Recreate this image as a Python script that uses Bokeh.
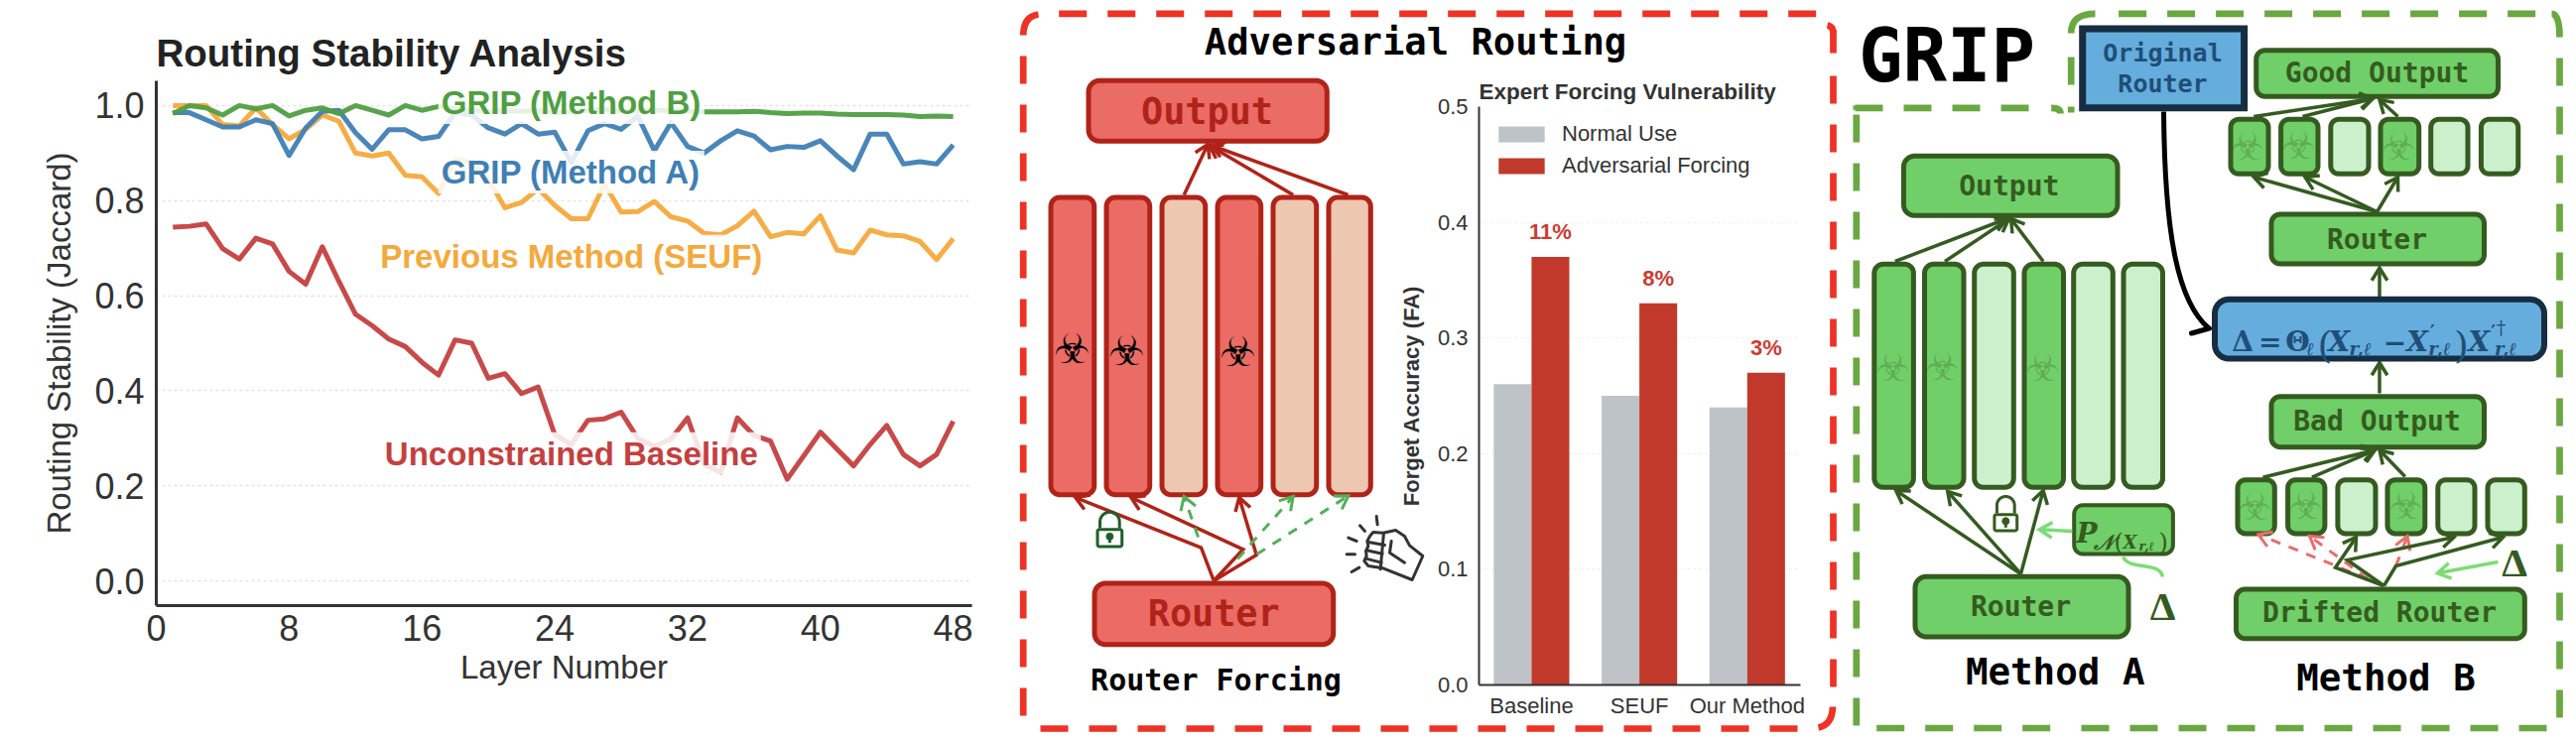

import numpy as np
from bokeh.core.properties import value
from bokeh.embed import file_html
from bokeh.models import FixedTicker, Label, Legend, LegendItem, Range1d, Title
from bokeh.plotting import figure
from bokeh.resources import INLINE

# ---------- line chart data ----------
layers = list(range(1, 49))
method_b = [.983,1.0,.995,.98,1.0,.993,1.0,.978,.99,.995,.983,1.0,.99,.98,1.0,.99,.998,.992,.99,.988,.99,.988,.99,.985,.987,.99,.992,.988,.99,.99,.99,.988,.987,.987,.987,.988,.985,.983,.984,.984,.982,.981,.981,.981,.98,.977,.978,.977]
method_a = [.985,.985,.97,.955,.955,.97,.962,.895,.953,.988,.99,.943,.908,.949,.949,.93,.935,.985,.98,.953,.94,.962,.94,.944,.88,.947,.962,.95,.978,.905,.964,.914,.90,.926,.947,.936,.907,.914,.912,.926,.894,.865,.94,.94,.877,.882,.877,.917]
seuf = [1.0,1.0,1.0,.96,.957,.995,.96,.93,.95,.98,.967,.90,.894,.90,.853,.85,.815,.887,.88,.846,.785,.796,.825,.79,.762,.762,.835,.776,.777,.798,.766,.757,.731,.728,.747,.778,.724,.733,.73,.768,.696,.69,.738,.728,.726,.714,.676,.72]
baseline = [.744,.746,.751,.699,.677,.721,.709,.651,.624,.703,.63,.561,.537,.509,.493,.46,.433,.507,.5,.426,.436,.394,.408,.308,.287,.338,.341,.355,.30,.283,.298,.343,.245,.228,.343,.306,.294,.214,.263,.313,.277,.242,.287,.327,.266,.242,.266,.336]
x_ticks = [0, 8, 16, 24, 32, 40, 48]
y_ticks = [0.0, 0.2, 0.4, 0.6, 0.8, 1.0]
line_labels = ["GRIP (Method B)", "GRIP (Method A)", "Previous Method (SEUF)", "Unconstrained Baseline"]
label_y = [1.006, 0.86, 0.683, 0.268]
label_x = 25

# ---------- bar chart data ----------
bar_groups = ["Baseline", "SEUF", "Our Method"]
normal_use = [0.26, 0.25, 0.24]
adversarial = [0.37, 0.33, 0.27]
gap_labels = ["11%", "8%", "3%"]

SANS = "Liberation Sans"
MONO = "DejaVu Sans Mono"
SERIF = "DejaVu Serif"
DARK = "#333333"
C_G, C_B, C_O, C_R = "#4F9F42", "#3F7FB5", "#F5A93B", "#C53F3F"

def at(left, top):
    return {"position": "absolute", "left": f"{left}px", "top": f"{top}px"}

# ---------- left: line chart ----------
lf = figure(width=1018, height=732, output_backend="svg", toolbar_location=None,
            x_range=Range1d(0, 49.13), y_range=Range1d(-0.052, 1.052),
            min_border_left=149, min_border_right=47, min_border_top=73, min_border_bottom=130,
            styles=at(8, 8))
lf.outline_line_color = None
lf.xgrid.visible = False
lf.ygrid.grid_line_color = "#e4e4e4"
lf.ygrid.grid_line_dash = "3 3"
lf.ygrid.grid_line_width = 1.5
for s, c in zip([method_b, method_a, seuf, baseline][::-1], [C_G, C_B, C_O, C_R][::-1]):
    lf.line(layers, s, line_color=c, line_width=5, line_alpha=0.95, line_join="round")
for ax in (lf.xaxis[0], lf.yaxis[0]):
    ax.major_tick_line_color = None
    ax.minor_tick_line_color = None
    ax.axis_line_color = DARK
    ax.axis_line_width = 3
    ax.major_label_text_font = SANS
    ax.major_label_text_font_size = "36px"
    ax.major_label_text_color = DARK
    ax.axis_label_text_font = SANS
    ax.axis_label_text_font_size = "33px"
    ax.axis_label_text_font_style = "normal"
    ax.axis_label_text_color = DARK
lf.xaxis[0].ticker = FixedTicker(ticks=x_ticks)
lf.yaxis[0].ticker = FixedTicker(ticks=y_ticks)
lf.xaxis[0].axis_label = "Layer Number"
lf.yaxis[0].axis_label = "Routing Stability (Jaccard)"
lf.xaxis[0].major_label_standoff = 3
lf.xaxis[0].axis_label_standoff = 5
lf.yaxis[0].major_label_standoff = 6
lf.yaxis[0].axis_label_standoff = 14
lf.yaxis[0].major_label_overrides = {v: f"{v:.1f}" for v in y_ticks}
lf.title = Title(text="Routing Stability Analysis", text_font=SANS, text_font_size="38.5px",
                 text_font_style="bold", text_color="#222222", offset=0, standoff=13)
for t, y, c in zip(line_labels, label_y, [C_G, C_B, C_O, C_R]):
    lf.add_layout(Label(x=label_x, y=y, text=t, text_align="center", text_baseline="middle",
                        text_font=SANS, text_font_size="33px", text_font_style="bold", text_color=c,
                        background_fill_color="white", background_fill_alpha=0.85, padding=3))

# ---------- middle and right: schematic, one data unit = one page pixel ----------
d = figure(width=1562, height=732, output_backend="svg", toolbar_location=None,
           x_range=Range1d(1026, 2588), y_range=Range1d(740, 8), min_border=0,
           styles=at(1026, 8))
d.axis.visible = False
d.grid.visible = False
d.outline_line_color = None

def rr_pts(x0, y0, x1, y1, r):
    xs, ys = [], []
    for cx, cy, a0 in [(x1-r, y0+r, -90), (x1-r, y1-r, 0), (x0+r, y1-r, 90), (x0+r, y0+r, 180)]:
        a = np.radians(np.linspace(a0, a0+90, 8))
        xs += list(cx + r*np.cos(a)); ys += list(cy + r*np.sin(a))
    return xs, ys

def box(x0, y0, x1, y1, fill, line, lw=5, r=11):
    xs, ys = rr_pts(x0+lw/2, y0+lw/2, x1-lw/2, y1-lw/2, r)
    d.patch(xs, ys, fill_color=fill, line_color=line, line_width=lw, line_join="round")

def txt(x, y, s, size, color="black", font=MONO, style="bold", align="center", base="middle", alpha=1.0):
    d.text([x], [y], text=[s], text_font=value(font), text_font_size=value(f"{size}px"), text_font_style=style,
           text_color=color, text_align=align, text_baseline=base, text_alpha=alpha)

def arrow(pts, color, lw=3.5, head=15, dash=None):
    pts = np.array(pts, dtype=float)
    kw = {"line_dash": dash} if dash else {}
    d.line(pts[:, 0], pts[:, 1], line_color=color, line_width=lw, line_join="miter", **kw)
    tip, prev = pts[-1], pts[-2]
    ang = np.arctan2(*(prev-tip)[::-1])
    hx, hy = [], []
    for s in (0.55, -0.55):
        hx += [tip[0]+head*np.cos(ang+s), tip[0]]
        hy += [tip[1]+head*np.sin(ang+s), tip[1]]
    d.line(hx, hy, line_color=color, line_width=lw, line_join="miter")

def dashes(segs, color, lw=6.7):
    for (x0, y0, x1, y1) in segs:
        d.line([x0, x1], [y0, y1], line_color=color, line_width=lw, line_dash="28 21", line_cap="butt")

def corner(x0, y0, cx, cy, x1, y1, color, lw=6.7):
    d.quadratic([x0], [y0], [x1], [y1], [cx], [cy], line_color=color, line_width=lw)

def lock(x0, y0, x1, y1, top, color, lw=3):
    box(x0, y0, x1, y1, "white", color, lw=lw, r=2)
    cx, rx = (x0+x1)/2, (x1-x0)/2-4
    a = np.radians(np.linspace(180, 360, 16))
    sx = [cx-rx] + list(cx+rx*np.cos(a)) + [cx+rx]
    sy = [y0] + list(top+rx+rx*np.sin(a)) + [y0]
    d.line(sx, sy, line_color=color, line_width=lw)
    ky = (y0+y1)/2
    d.scatter([cx], [ky-1.5], size=7, color=color)
    d.line([cx, cx], [ky-1, ky+5], line_color=color, line_width=3)

RED, REDF, REDL, REDLINE = "#EE3224", "#EB6B65", "#EEC7B0", "#B02318"
GRN, GRNF, GRNL, GRNLINE = "#6AA842", "#70CF68", "#CCF0CC", "#355B20"
BLUF, BLULINE, BLUTXT = "#65ADDC", "#162D42", "#1F4E79"

# dashed frames
dashes([(1066.7,13.3,1830,13.3),(1847,76,1847,692),(1048,734,1811,734),(1030.7,56,1030.7,721),(1847,30,1847,53)], RED)
corner(1030.7,35, 1031,16, 1046,14, RED)
corner(1846.5,712, 1846,730, 1832,733, RED)
corner(1841,25, 1847,26, 1847,33, RED)
dashes([(1870.3,115,1870.3,732),(1869,108.3,2045,108.3),(1890.7,733.5,2066,733.5),(2097,733.5,2566,733.5),
        (2579,58,2579,723),(2134.6,13.3,2555,13.3),(2086.7,57,2086.7,85),(2086.7,107,2086.7,113)], GRN)
corner(2066.7,108.3, 2076,108.3, 2076,114, GRN)
corner(2571,13.3, 2579,13.3, 2579,37, GRN)
corner(2086.7,33, 2086.7,13.3, 2111,13.3, GRN)
corner(1867,108.3, 1870.3,108.3, 1870.3,110, GRN, lw=5)

# red panel
txt(1426, 41, "Adversarial Routing", 37.2)
txt(1225, 685, "Router Forcing", 30)
box(1094, 78.3, 1339.3, 144.3, REDF, REDLINE, r=11)
txt(1216, 112, "Output", 36.8, REDLINE)
red_cols = [(1056,1104.7,1),(1112,1160.7,1),(1168,1216.7,0),(1224,1272.7,1),(1280,1328.7,0),(1336,1383.3,0)]
for x0, x1, bad in red_cols:
    box(x0, 196, x1, 500.7, REDF if bad else REDL, REDLINE, r=9)
for x, y in [(1080,351),(1135,353),(1247,354.5)]:
    txt(x, y, "\u2623", 41, "black", font="DejaVu Sans", style="normal")
box(1100, 585, 1345.7, 651.7, REDF, REDLINE, r=11)
txt(1222.7, 618.3, "Router", 36.8, REDLINE)
arrow([(1192.7,196),(1216.7,145)], REDLINE)
arrow([(1302.7,196),(1218,146)], REDLINE)
arrow([(1358,196),(1220,146)], REDLINE)
arrow([(1222.7,585),(1210,551.7),(1083.3,501)], REDLINE)
arrow([(1222.7,585),(1252.3,553.3),(1139.3,501)], REDLINE)
arrow([(1222.7,585),(1265.7,559),(1248.3,501)], REDLINE)
G_D = "#52B05A"
arrow([(1207,541),(1192.7,500)], G_D, lw=3, dash="10 9")
arrow([(1246.7,563),(1302.7,500)], G_D, lw=3, dash="10 9")
arrow([(1266,558.3),(1358.3,499.3)], G_D, lw=3, dash="10 9")
lock(1104, 531.7, 1131.7, 552, 515.7, "#1F5F26")

def z7(p):
    return 1020+p[0]/3, 370+p[1]/3
def poly7(pts, lw=3):
    a = np.array([z7(p) for p in pts])
    d.line(a[:,0], a[:,1], line_color=DARK, line_width=lw, line_join="round", line_cap="round")
poly7([(1120,500),(1158,492),(1185,510),(1200,538),(1240,570),(1208,642),(1120,607),(1075,600),(1063,585),(1070,570),(1068,555),(1075,540),(1072,525),(1080,510),(1090,498),(1120,500)])
poly7([(1076,528),(1125,537)]); poly7([(1070,553),(1118,563)]); poly7([(1068,578),(1115,590)])
poly7([(1145,525),(1140,560),(1185,590)]); poly7([(1122,500),(1112,610)])
for s in [[(1100,450),(1103,475)],[(1050,478),(1065,495)],[(1015,515),(1040,525)],[(1010,565),(1035,565)],[(1025,618),(1048,605)]]:
    poly7(s)

# GRIP panel
txt(1961.5, 55, "GRIP", 74)
txt(2070.7, 676.7, "Method A", 37.5)
txt(2404, 682.7, "Method B", 37.5)

BIO = 39
# Method A
box(1915.4, 154.3, 2136, 219.3, GRNF, GRNLINE, r=11)
txt(2024.3, 186.7, "Output", 28, GRNLINE)
a_cols = [(1885.8,1930.4,1),(1936.5,1981,1),(1986.7,2031.3,0),(2037,2081.5,1),(2086.7,2131.3,0),(2137,2181.5,0)]
for x0, x1, bad in a_cols:
    box(x0, 263.3, x1, 493.3, GRNF if bad else GRNL, GRNLINE, r=9)
for x, y in [(1907,370),(1957,369),(2058,370)]:
    txt(x, y, "\u2623", BIO, GRNLINE, font="DejaVu Sans", style="normal", alpha=0.28)
arrow([(1909.3,263),(2022,220)], GRNLINE)
arrow([(1959.5,263),(2024,220)], GRNLINE)
arrow([(2058.6,263),(2026,220)], GRNLINE)
box(1927, 578.3, 2147, 644, GRNF, GRNLINE, r=11)
txt(2036, 610.7, "Router", 28, GRNLINE)
arrow([(2036,578),(1910.2,494)], GRNLINE)
arrow([(2036,578),(1962.3,495)], GRNLINE)
arrow([(2036,578),(2058.6,494)], GRNLINE)
lock(2007.9, 516.7, 2033.7, 536, 500, GRNLINE)
box(2087.7, 506.7, 2191.4, 560, GRNF, GRNLINE, lw=4, r=9)
G_L = "#7DDC75"
arrow([(2087.7,535),(2054.8,533.3)], G_L)
d.bezier([2139],[561],[2179],[581],[2146],[575],[2176],[565], line_color=G_L, line_width=3.5)
txt(2179, 610, "\u0394", 41, GRNLINE, font="Liberation Serif", style="bold")
txt(2092, 537, "P", 28, GRNLINE, font=SERIF, style="bold italic", align="left", base="alphabetic")
txt(2109, 546, "\U0001D4A9", 21, GRNLINE, font=SERIF, style="bold italic", align="left", base="alphabetic")
txt(2130, 546, "(", 24, GRNLINE, font=SERIF, style="normal", align="left", base="alphabetic")
txt(2139, 546, "X", 18, GRNLINE, font=SERIF, style="bold italic", align="left", base="alphabetic")
txt(2155, 550, "r,\u2113", 12.5, GRNLINE, font=SERIF, style="bold italic", align="left", base="alphabetic")
txt(2175, 546, ")", 24, GRNLINE, font=SERIF, style="normal", align="left", base="alphabetic")

# Method B, upper stack
box(2270.7, 47.7, 2519.5, 99.3, GRNF, GRNLINE, r=9)
txt(2395, 72.7, "Good Output", 28, GRNLINE)
top_cols = [(2245,2288,1),(2295.6,2338,1),(2345.8,2389,0),(2396,2439.7,1),(2446.7,2489,0),(2497.4,2539.7,0)]
for x0, x1, bad in top_cols:
    box(x0, 117.3, x1, 177.3, GRNF if bad else GRNL, GRNLINE, r=8)
for x, y in [(2264.6,147.3),(2316,145.7),(2416.8,147)]:
    txt(x, y, "\u2623", BIO, GRNLINE, font="DejaVu Sans", style="normal", alpha=0.28)
arrow([(2270.8,117),(2390.5,99)], GRNLINE)
arrow([(2320,117),(2390.5,99)], GRNLINE)
arrow([(2416,117),(2397.5,100)], GRNLINE)
box(2286, 213, 2505.5, 268, GRNF, GRNLINE, r=9)
txt(2395, 240.7, "Router", 28, GRNLINE)
arrow([(2395,213),(2270.8,178)], GRNLINE)
arrow([(2395,213),(2322.4,178)], GRNLINE)
arrow([(2395,213),(2416,178)], GRNLINE)
arrow([(2397.5,299),(2397.5,269.5)], GRNLINE)

# Method B, lower stack
box(2286, 396.7, 2505.5, 452.7, GRNF, GRNLINE, r=9)
txt(2395, 424, "Bad Output", 28, GRNLINE)
arrow([(2397.5,396),(2397.5,365)], GRNLINE)
low_cols = [(2252,2294.3,1),(2302.6,2344.9,1),(2352.9,2396,0),(2403,2445.8,1),(2453.8,2496,0),(2504,2546.3,0)]
for x0, x1, bad in low_cols:
    box(x0, 480.7, x1, 540, GRNF if bad else GRNL, GRNLINE, r=8)
for x, y in [(2271.7,510),(2323.3,509.3),(2424.2,509.3)]:
    txt(x, y, "\u2623", BIO, GRNLINE, font="DejaVu Sans", style="normal", alpha=0.28)
arrow([(2280,480.7),(2392.8,453.3)], GRNLINE)
arrow([(2329.4,480.7),(2392.8,453.3)], GRNLINE)
arrow([(2423.3,480),(2397.5,453.3)], GRNLINE)
R_D = "#EE6B6B"
arrow([(2385.7,583),(2275.4,538.3)], R_D, lw=3, dash="10 9")
arrow([(2385.7,583),(2327,540)], R_D, lw=3, dash="10 9")
arrow([(2414,570),(2425.6,540)], R_D, lw=3, dash="10 9")
arrow([(2402,590),(2353,571.7),(2374,541)], GRNLINE)
arrow([(2402,590),(2365,564),(2472.6,541)], GRNLINE)
arrow([(2402,590),(2414,570),(2522,541)], GRNLINE)
arrow([(2517,566),(2456,577.3)], G_L)
txt(2533.6, 566, "\u0394", 41, GRNLINE, font="Liberation Serif", style="bold")
box(2250.5, 591, 2546.3, 645.7, GRNF, GRNLINE, r=9)
txt(2397.5, 617.3, "Drifted Router", 28, GRNLINE)

# central update box
box(2228.5, 298.3, 2566.5, 364, BLUF, BLULINE, lw=6, r=14)
def z4x(v):
    return 1860 + v/2.1304
MB, SB = 344, 351
for xz, s, sz, st, by in [(828,"\u0394",28,"bold",MB),(885,"=",28,"bold",MB),(943,"\u0398",28,"bold",MB),
                          (988,"\u2113",18,"bold italic",SB),(1012,"(",38,"normal",MB+3),(1035,"X",28,"bold italic",MB),
                          (1080,"r,\u2113",18,"bold italic",SB),(1153,"\u2212",28,"bold",MB),(1203,"X",28,"bold italic",MB),
                          (1254,"\u2032",18,"bold",334),(1250,"r,\u2113",18,"bold italic",SB),(1305,")",38,"normal",MB+3),
                          (1335,"X",28,"bold italic",MB),(1384,"\u2032",18,"bold",334),(1396,"\u2020",19,"normal",329),
                          (1392,"r,\u2113",18,"bold italic",SB)]:
    txt(z4x(xz), by, s, sz, BLUTXT, font=SERIF, style=st, align="left", base="alphabetic")

# curved link from the original router
d.bezier([2180],[112],[2226],[331],[2181],[240],[2195],[305], line_color="black", line_width=5)
d.line([2208,2226],[335.5,330.5], line_color="black", line_width=5, line_cap="round")

# original router box
d.quad([2098.2],[2261.1],[28.5],[108.2], fill_color=BLUF, line_color=BLULINE, line_width=7, line_join="miter")
txt(2179, 52.7, "Original", 25, BLUTXT)
txt(2179, 84.3, "Router", 25, BLUTXT)

# ---------- overlaid bar chart ----------
BG, BR = "#BDC3C7", "#C0392B"
pos = np.arange(len(bar_groups))
bf = figure(width=425, height=670, output_backend="svg", toolbar_location=None,
            x_range=Range1d(-0.487, 2.494), y_range=Range1d(0, 0.5),
            min_border_left=90, min_border_right=11, min_border_top=37, min_border_bottom=50,
            background_fill_color=None, border_fill_color=None,
            styles=at(1400, 70))
bf.outline_line_color = None
bf.xgrid.visible = False
bf.ygrid.grid_line_color = "#eeeeee"
bf.ygrid.grid_line_dash = "3 3"
r1 = bf.vbar(pos-0.175, top=normal_use, width=0.35, fill_color=BG, line_color=None)
r2 = bf.vbar(pos+0.175, top=adversarial, width=0.35, fill_color=BR, line_color=None)
bf.text(pos+0.175, np.array(adversarial)+0.011, text=gap_labels, text_align="center", text_baseline="bottom",
        text_font=value(SANS), text_font_size=value("22px"), text_font_style="bold", text_color="#CC3C33")
for ax in (bf.xaxis[0], bf.yaxis[0]):
    ax.major_tick_line_color = None
    ax.minor_tick_line_color = None
    ax.axis_line_color = DARK
    ax.axis_line_width = 2
    ax.major_label_text_font = SANS
    ax.major_label_text_font_size = "22px"
    ax.major_label_text_color = DARK
bf.xaxis[0].ticker = FixedTicker(ticks=list(pos))
bf.xaxis[0].major_label_overrides = {int(i): g for i, g in zip(pos, bar_groups)}
bf.xaxis[0].major_label_standoff = 2
bf.yaxis[0].ticker = FixedTicker(ticks=[0.0, 0.1, 0.2, 0.3, 0.4, 0.5])
bf.yaxis[0].major_label_overrides = {v: f"{v:.1f}" for v in [0.0, 0.1, 0.2, 0.3, 0.4, 0.5]}
bf.yaxis[0].major_label_standoff = 5
bf.yaxis[0].axis_label = "Forget Accuracy (FA)"
bf.yaxis[0].axis_label_text_font = SANS
bf.yaxis[0].axis_label_text_font_size = "22px"
bf.yaxis[0].axis_label_text_font_style = "bold"
bf.yaxis[0].axis_label_text_color = DARK
bf.yaxis[0].axis_label_standoff = 11
bf.title = Title(text="Expert Forcing Vulnerability", text_font=SANS, text_font_size="22.5px",
                 text_font_style="bold", text_color=DARK, offset=0, standoff=5)
leg = Legend(items=[LegendItem(label="Normal Use", renderers=[r1]), LegendItem(label="Adversarial Forcing", renderers=[r2])],
             border_line_color=None, background_fill_color=None,
             label_text_font=SANS, label_text_font_size="22px", label_text_color=DARK,
             glyph_width=58, glyph_height=20, label_standoff=12, spacing=6, margin=0, padding=0,
             label_height=26, location=(14, 510))
bf.add_layout(leg)

open("out.html", "w").write(file_html([lf, d, bf], INLINE))
